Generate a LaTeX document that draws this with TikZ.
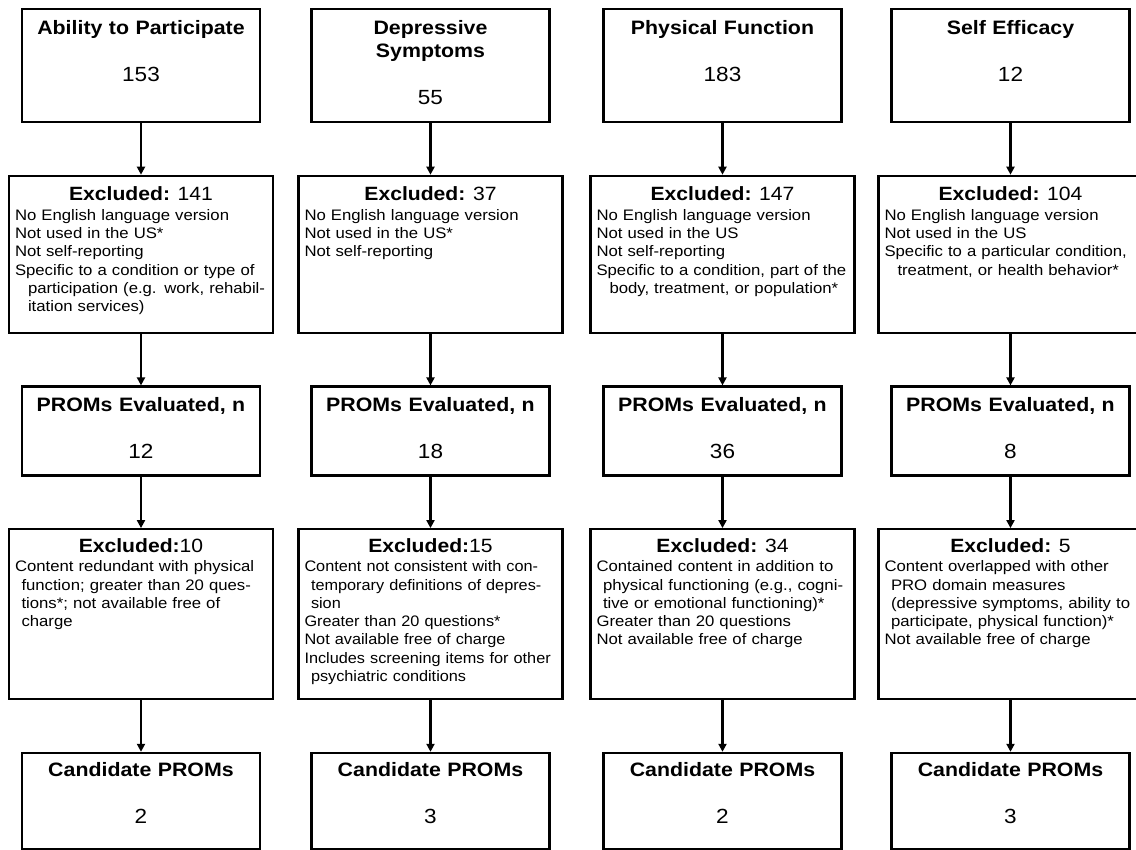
\documentclass[tikz,border=0pt]{standalone}
\usepackage{fontspec}
\setmainfont{Liberation Sans}[FakeStretch=1.1]
\newfontfamily\exclnarrow{Liberation Sans}[FakeStretch=1.07]
\usepackage{tikz}
\usetikzlibrary{
    arrows.meta,
    positioning
}
\newcommand{\boxtitlefont}{\fontsize{19.4}{23}\selectfont\bfseries}
\newcommand{\boxnumfont}{\fontsize{20.5}{23}\selectfont\mdseries}
\newcommand{\exclheadfont}{\fontsize{19.2}{23}\selectfont}
\newcommand{\exclbodyfont}{\fontsize{15.2}{18.3}\selectfont}
\newcommand{\excl}[1]{{\centering\exclheadfont #1\par}\vspace{1.2pt}}
\newcommand{\wrapa}{\hspace*{13pt}}
\newcommand{\wrapb}{\hspace*{6.5pt}}

\begin{document}
\begin{tikzpicture}[
    x=1pt,
    y=1pt,
    node distance=51.5pt,
    box/.style={
        draw,
        line width=2.2pt,
        text width=226pt,
        inner xsep=6pt,
        inner ysep=0pt,
        align=center,
        font=\boxtitlefont
    },
    domainbox/.style={
        box,
        text height=25pt,
        text depth=88pt
    },
    evaluated/.style={
        box,
        text height=25pt,
        text depth=64pt
    },
    candidate/.style={
        box,
        text height=24pt,
        text depth=72pt
    },
    excluded/.style={
        box,
        text width=252pt,
        align=left,
        font=\exclbodyfont,
        text height=25pt,
        text depth=132pt
    },
    excludedlow/.style={
        excluded,
        text height=23pt,
        text depth=147pt
    },
    arrow/.style={
        -{Triangle[length=8pt,width=8pt]},
        line width=2.2pt
    }
]

\useasboundingbox (0,0) rectangle (1136,-850);

\node[domainbox, anchor=north] (participate) at (141,-8)
    {Ability to Participate\\[24pt]{\boxnumfont 153}};
\node[domainbox, anchor=north] (depressive) at (430.5,-8)
    {Depressive\\Symptoms\\[24pt]{\boxnumfont 55}};
\node[domainbox, anchor=north] (physical) at (722.5,-8)
    {Physical Function\\[24pt]{\boxnumfont 183}};
\node[domainbox, anchor=north] (efficacy) at (1010.5,-8)
    {Self Efficacy\\[24pt]{\boxnumfont 12}};

\node[excluded, below=of participate] (partexcl)
    {\excl{\textbf{Excluded:} 141}
     No English language version\\
     Not used in the US*\\
     Not self-reporting\\
     Specific to a condition or type of\\
     \wrapa participation (e.g. work, rehabil-\\
     \wrapa itation services)};
\node[excluded, below=of depressive] (depexcl)
    {\excl{\textbf{Excluded:} 37}
     No English language version\\
     Not used in the US*\\
     Not self-reporting};
\node[excluded, below=of physical] (physexcl)
    {\excl{\textbf{Excluded:} 147}
     No English language version\\
     Not used in the US\\
     Not self-reporting\\
     Specific to a condition, part of the\\
     \wrapa body, treatment, or population*};
\node[excluded, below=of efficacy] (effexcl)
    {\excl{\textbf{Excluded:} 104}
     No English language version\\
     Not used in the US\\
     Specific to a particular condition,\\
     \wrapa treatment, or health behavior*};

\node[evaluated, below=of partexcl] (parteval)
    {PROMs Evaluated, n\\[24pt]{\boxnumfont 12}};
\node[evaluated, below=of depexcl] (depeval)
    {PROMs Evaluated, n\\[24pt]{\boxnumfont 18}};
\node[evaluated, below=of physexcl] (physeval)
    {PROMs Evaluated, n\\[24pt]{\boxnumfont 36}};
\node[evaluated, below=of effexcl] (effeval)
    {PROMs Evaluated, n\\[24pt]{\boxnumfont 8}};

\node[excludedlow, below=of parteval] (partdrop)
    {\excl{\textbf{Excluded:}10}
     Content redundant with physical\\
     \wrapb function; greater than 20 ques-\\
     \wrapb tions*; not available free of\\
     \wrapb charge};
\node[excludedlow, below=of depeval] (depdrop)
    {\excl{\textbf{Excluded:}15}
     \exclnarrow
     Content not consistent with con-\\
     \wrapb temporary definitions of depres-\\
     \wrapb sion\\
     Greater than 20 questions*\\
     Not available free of charge\\
     Includes screening items for other\\
     \wrapb psychiatric conditions};
\node[excludedlow, below=of physeval] (physdrop)
    {\excl{\textbf{Excluded:} 34}
     Contained content in addition to\\
     \wrapb physical functioning (e.g., cogni-\\
     \wrapb tive or emotional functioning)*\\
     Greater than 20 questions\\
     Not available free of charge};
\node[excludedlow, below=of effeval] (effdrop)
    {\excl{\textbf{Excluded:} 5}
     Content overlapped with other\\
     \wrapb PRO domain measures\\
     \wrapb (depressive symptoms, ability to\\
     \wrapb participate, physical function)*\\
     Not available free of charge};

\node[candidate, below=of partdrop] (partcand)
    {Candidate PROMs\\[24pt]{\boxnumfont 2}};
\node[candidate, below=of depdrop] (depcand)
    {Candidate PROMs\\[24pt]{\boxnumfont 3}};
\node[candidate, below=of physdrop] (physcand)
    {Candidate PROMs\\[24pt]{\boxnumfont 2}};
\node[candidate, below=of effdrop] (effcand)
    {Candidate PROMs\\[24pt]{\boxnumfont 3}};

\draw[arrow] (participate) -- (partexcl);
\draw[arrow] (partexcl) -- (parteval);
\draw[arrow] (parteval) -- (partdrop);
\draw[arrow] (partdrop) -- (partcand);

\draw[arrow] (depressive) -- (depexcl);
\draw[arrow] (depexcl) -- (depeval);
\draw[arrow] (depeval) -- (depdrop);
\draw[arrow] (depdrop) -- (depcand);

\draw[arrow] (physical) -- (physexcl);
\draw[arrow] (physexcl) -- (physeval);
\draw[arrow] (physeval) -- (physdrop);
\draw[arrow] (physdrop) -- (physcand);

\draw[arrow] (efficacy) -- (effexcl);
\draw[arrow] (effexcl) -- (effeval);
\draw[arrow] (effeval) -- (effdrop);
\draw[arrow] (effdrop) -- (effcand);

\end{tikzpicture}
\end{document}
